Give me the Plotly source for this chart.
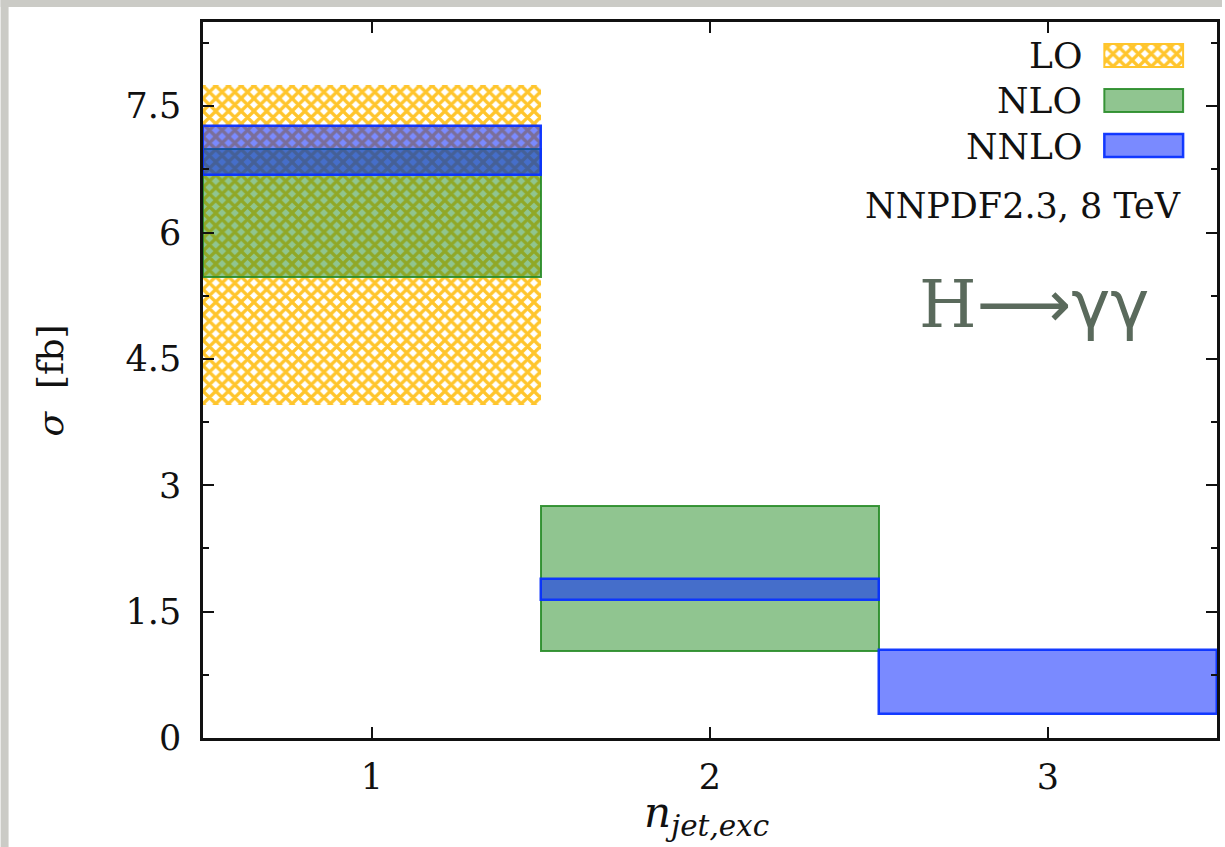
import plotly.graph_objects as go

# Exclusive jet bins and scale-variation bands (lower / upper edge) in fb
bins = [1, 2, 3]
lo_low = [3.95]
lo_high = [7.75]
nlo_low = [5.47, 1.03]
nlo_high = [6.99, 2.76]
nnlo_low = [6.68, 1.64, 0.29]
nnlo_high = [7.26, 1.89, 1.04]

y_ticks = [0, 1.5, 3, 4.5, 6, 7.5]
y_ticklabels = ["0", "1.5", "3", "4.5", "6", "7.5"]
y_minor = [0.75, 2.25, 3.75, 5.25, 6.75, 8.25]
x_ticks = [1, 2, 3]

W, H = 1225, 847
L, R, T, B = 203, 5, 22, 109
PW, PH = W - L - R, H - T - B

SERIF = "DejaVu Serif"
LO_COL = "#ffc52c"
NLO_FILL = "rgba(34,139,34,0.5)"
NLO_LINE = "rgba(40,140,40,0.9)"
NNLO_FILL = "rgba(0,30,255,0.52)"
NNLO_LINE = "rgba(10,50,255,0.95)"
LO_PATTERN = dict(shape="x", fgcolor=LO_COL, bgcolor="rgba(0,0,0,0)",
                  size=9, solidity=0.6, fillmode="replace")


def px(x):
    return (x - L) / PW


def py(y):
    return 1 - (y - T) / PH


fig = go.Figure()

fig.add_trace(go.Bar(
    x=bins[:len(lo_low)],
    y=[h - l for l, h in zip(lo_low, lo_high)],
    base=lo_low, width=1.0,
    marker=dict(color="rgba(0,0,0,0)", line=dict(width=0), pattern=LO_PATTERN),
    showlegend=False, name="LO",
))
fig.add_trace(go.Bar(
    x=bins[:len(nlo_low)],
    y=[h - l for l, h in zip(nlo_low, nlo_high)],
    base=nlo_low, width=1.0,
    marker=dict(color=NLO_FILL, line=dict(color=NLO_LINE, width=2)),
    showlegend=False, name="NLO",
))
fig.add_trace(go.Bar(
    x=bins[:len(nnlo_low)],
    y=[h - l for l, h in zip(nnlo_low, nnlo_high)],
    base=nnlo_low, width=1.0,
    marker=dict(color=NNLO_FILL, line=dict(color=NNLO_LINE, width=2.5)),
    showlegend=False, name="NNLO",
))

# crosshatched swatch for the LO legend entry, on a hidden unit axis pair
fig.add_trace(go.Bar(
    x=[(px(1107) + px(1186)) / 2], y=[py(44) - py(67)], base=[py(67)],
    width=[px(1186) - px(1107)],
    xaxis="x2", yaxis="y2",
    marker=dict(color="rgba(0,0,0,0)", line=dict(width=0), pattern=LO_PATTERN),
    showlegend=False, hoverinfo="skip",
))

shapes = [
    # grey frame around the white sheet
    dict(type="rect", xref="paper", yref="paper", layer="below",
         x0=px(0), x1=px(8), y0=py(H), y1=py(0),
         fillcolor="#cbcbc6", line=dict(width=0)),
    dict(type="rect", xref="paper", yref="paper", layer="below",
         x0=px(0), x1=px(W), y0=py(7), y1=py(0),
         fillcolor="#cbcbc6", line=dict(width=0)),
]

annotations = []

# Legend: label on the left, swatch on the right
legend_rows = [
    ("LO", 44, dict(fillcolor="rgba(0,0,0,0)", line=dict(color=LO_COL, width=2))),
    ("NLO", 89, dict(fillcolor=NLO_FILL, line=dict(color=NLO_LINE, width=2))),
    ("NNLO", 134, dict(fillcolor=NNLO_FILL, line=dict(color=NNLO_LINE, width=2.5))),
]
for label, top, style in legend_rows:
    shapes.append(dict(type="rect", xref="paper", yref="paper",
                       x0=px(1107), x1=px(1186), y0=py(top + 23), y1=py(top),
                       **style))
    annotations.append(dict(text=label, xref="paper", yref="paper",
                            x=px(1087), y=py(top + 12), xanchor="right", yanchor="middle",
                            showarrow=False, font=dict(family=SERIF, size=36, color="#111")))

annotations.append(dict(text="NNPDF2.3, 8 TeV", xref="paper", yref="paper",
                        x=px(1186), y=py(206), xanchor="right", yanchor="middle",
                        showarrow=False, font=dict(family=SERIF, size=35, color="#111")))
annotations.append(dict(
    text="H<span style=\"font-family:'DejaVu Sans'\">\u27f6\u03b3\u03b3</span>",
    xref="paper", yref="paper",
    x=px(1036), y=py(305), xanchor="center", yanchor="middle",
    showarrow=False, font=dict(family=SERIF, size=66, color="#5a6a5c")))
# axis titles
annotations.append(dict(text="<i>\u03c3</i>\u00a0\u00a0[fb]", xref="paper", yref="paper",
                        x=px(50), y=py(380), xanchor="center", yanchor="middle",
                        textangle=-90, showarrow=False,
                        font=dict(family=SERIF, size=36, color="#111")))
annotations.append(dict(text="<i>n</i><sub><i>jet,exc</i></sub>", xref="paper", yref="paper",
                        x=px(708), y=py(815), xanchor="center", yanchor="middle",
                        showarrow=False, font=dict(family=SERIF, size=42, color="#111")))

axis_common = dict(showline=True, linecolor="#111", linewidth=2.5, mirror="ticks",
                   ticks="inside", tickcolor="#111", tickwidth=2, ticklen=11,
                   showgrid=False, zeroline=False,
                   tickfont=dict(family=SERIF, size=35, color="#111"))

fig.update_layout(
    width=W, height=H,
    margin=dict(l=L, r=R, t=T, b=B),
    paper_bgcolor="white", plot_bgcolor="white",
    barmode="overlay", bargap=0,
    xaxis=dict(range=[0.5, 3.5], tickvals=x_ticks, ticktext=[str(v) for v in x_ticks],
               ticklabelstandoff=6, **axis_common),
    yaxis=dict(range=[0, 8.5], tickvals=y_ticks, ticktext=y_ticklabels,
               ticklabelstandoff=12,
               minor=dict(tickvals=y_minor, ticks="inside", ticklen=6,
                          tickwidth=2, tickcolor="#111"),
               **axis_common),
    xaxis2=dict(domain=[0, 1], range=[0, 1], overlaying="x", visible=False, anchor="y2"),
    yaxis2=dict(domain=[0, 1], range=[0, 1], overlaying="y", visible=False, anchor="x2"),
    shapes=shapes,
    annotations=annotations,
)

fig.write_html("out.html")
